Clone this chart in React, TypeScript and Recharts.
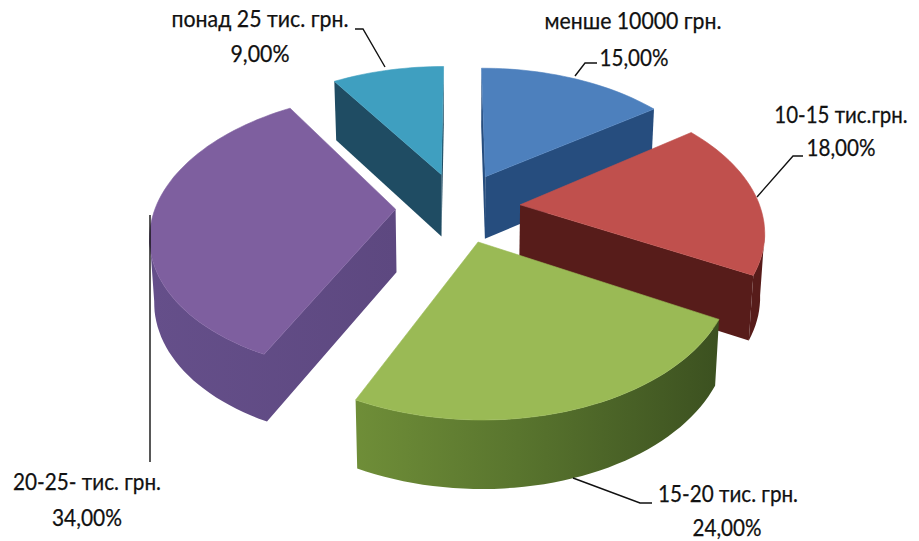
import React from 'react';
import { PieChart, Pie } from 'recharts';

const labels = ['менше 10000 грн.', '10-15 тис.грн.', '15-20 тис. грн.', '20-25- тис. грн.', 'понад 25 тис. грн.'];
const shares = [15, 18, 24, 34, 9];

const topColors = ['#4d80bd', '#c0504d', '#9aba55', '#7e5f9f', '#3f9fc0'];
const sideColors = ['#264d7e', '#571c1a', 'url(#greenWall)', 'url(#purpleWall)', '#1f4c63'];

// label boxes: name centre, baselines, fitted widths, then the leader line
const labelLayout = [
  { x: 633, y1: 29, y2: 66, w1: 177, cx2: 634, w2: 69, leader: '597,63 585,63 575,76' },
  { x: 841, y1: 123, y2: 156, w1: 0, squeeze: 0.89, cx2: 841, w2: 69, leader: '803,156 793,156 757,197' },
  { x: 728, y1: 502, y2: 535.5, w1: 140, cx2: 727, w2: 69, leader: '652,503 640,503 573,478' },
  { x: 87, y1: 490, y2: 526, w1: 148, cx2: 87, w2: 70, leader: '150,215 150,462' },
  { x: 260, y1: 27, y2: 62, w1: 177, cx2: 260, w2: 59, leader: '355,29 363,29 385,67' },
];

const EXPLODE = 0.26;
const PERSPECTIVE = 0.165;
const TILT = 0.565;
const DEPTH = 63;
const BOTTOM_SHRINK = 0.985;

type Pt = { x: number; y: number };

const rad = (d: number) => (d * Math.PI) / 180;

const toPath = (pts: Pt[]) =>
  pts.map((p, i) => `${i ? 'L' : 'M'}${p.x.toFixed(1)},${p.y.toFixed(1)}`).join(' ') + ' Z';

// one exploded slice, extruded downward and seen through a simple perspective
const Slice3D = (props: any) => {
  const { cx, cy, outerRadius, startAngle, endAngle, index } = props;
  const from = 90 - startAngle;
  const to = 90 - endAngle;
  const mid = (from + to) / 2;
  const offU = EXPLODE * Math.sin(rad(mid));
  const offV = -EXPLODE * Math.cos(rad(mid));

  const top = (u: number, v: number): Pt => {
    const s = 1 / (1 - PERSPECTIVE * v);
    return { x: cx + outerRadius * u * s, y: cy + outerRadius * TILT * v * s };
  };
  const bottom = (u: number, v: number): Pt => {
    const s = 1 / (1 - PERSPECTIVE * v);
    const p = top(u, v);
    return { x: cx + (p.x - cx) * BOTTOM_SHRINK, y: p.y + DEPTH * Math.pow(s, 0.4) };
  };

  const ring: [number, number][] = [[offU, offV]];
  const steps = Math.ceil((to - from) / 2);
  for (let i = 0; i <= steps; i++) {
    const t = rad(from + ((to - from) * i) / steps);
    ring.push([offU + Math.sin(t), offV - Math.cos(t)]);
  }

  const topPts = ring.map(([u, v]) => top(u, v));
  const bottomPts = ring.map(([u, v]) => bottom(u, v));

  // walls facing the viewer are the ones whose top edge runs leftward;
  // neighbouring segments are merged so the curved wall has no seams
  const n = ring.length;
  const faces = (i: number) => topPts[(i + 1) % n].x < topPts[i].x;
  const runs: number[][] = [];
  for (let i = 0; i < n; i++) {
    if (!faces(i)) continue;
    const last = runs[runs.length - 1];
    // a straight radial edge always starts its own wall
    const radial = i === 0 || i === n - 1;
    if (last && last[last.length - 1] === i && !radial) last.push((i + 1) % n);
    else runs.push([i, (i + 1) % n]);
  }

  return (
    <g>
      {runs.map((run) => (
        <path
          key={run[0]}
          d={toPath([...run.map((k) => topPts[k]), ...[...run].reverse().map((k) => bottomPts[k])])}
          fill={sideColors[index]}
        />
      ))}
      <path d={toPath(topPts)} fill={topColors[index]} stroke={topColors[index]} strokeWidth={0.6} />
    </g>
  );
};

const percentText = (v: number) => `${v.toFixed(2).replace('.', ',')}%`;

const SliceLabel = (props: any) => {
  const i = props.index;
  const box = labelLayout[i];
  const font = {
    fontFamily: 'Lato, "Open Sans", sans-serif',
    fontSize: 23,
    fill: '#111',
    stroke: '#111',
    strokeWidth: 0.25,
  };
  return (
    <g>
      <polyline points={box.leader} fill="none" stroke="#111" strokeWidth={1.4} />
      {box.squeeze ? (
        // this name sits close to the right edge, so it is narrowed with a transform
        <text
          transform={`translate(${box.x} ${box.y1}) scale(${box.squeeze} 1)`}
          textAnchor="middle"
          {...font}
        >
          {labels[i]}
        </text>
      ) : (
        <text x={box.x} y={box.y1} textAnchor="middle" textLength={box.w1} lengthAdjust="spacingAndGlyphs" {...font}>
          {labels[i]}
        </text>
      )}
      <text x={box.cx2} y={box.y2} textAnchor="middle" textLength={box.w2} lengthAdjust="spacingAndGlyphs" {...font}>
        {percentText(shares[i])}
      </text>
    </g>
  );
};

const data = labels.map((name, i) => ({ name, value: shares[i] }));

export default function App() {
  return (
    <div style={{ position: 'absolute', left: 0, top: 0, width: 919, height: 541, background: '#fff' }}>
      <PieChart width={919} height={541} margin={{ top: 0, right: 0, bottom: 0, left: 0 }}>
        <defs>
          <linearGradient id="greenWall" gradientUnits="userSpaceOnUse" x1="355" y1="0" x2="717" y2="0">
            <stop offset="0%" stopColor="#6f8e38" />
            <stop offset="45%" stopColor="#59752e" />
            <stop offset="100%" stopColor="#3c5120" />
          </linearGradient>
          <linearGradient id="purpleWall" gradientUnits="userSpaceOnUse" x1="150" y1="0" x2="397" y2="0">
            <stop offset="0%" stopColor="#654f8a" />
            <stop offset="100%" stopColor="#5d4880" />
          </linearGradient>
        </defs>
        <Pie
          data={data}
          dataKey="value"
          nameKey="name"
          cx={458}
          cy={207}
          outerRadius={240}
          startAngle={90}
          endAngle={-270}
          stroke="none"
          shape={Slice3D}
          label={SliceLabel}
          labelLine={false}
          isAnimationActive={false}
        />
      </PieChart>
    </div>
  );
}
